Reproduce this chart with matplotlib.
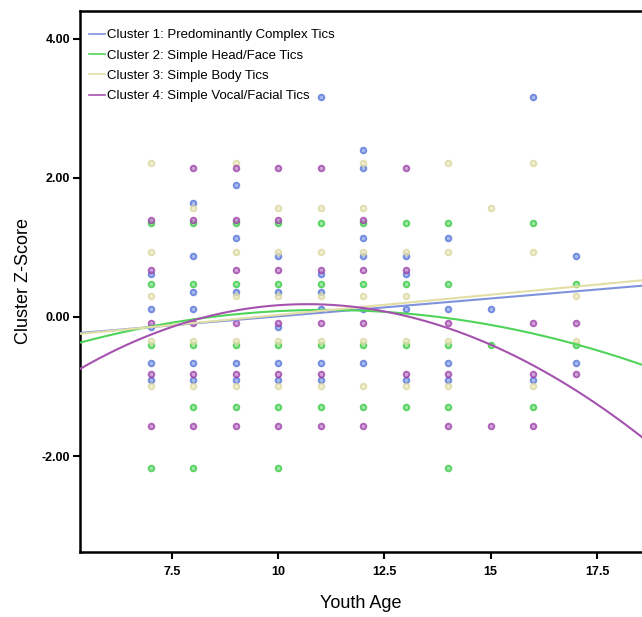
import numpy as np
import matplotlib
matplotlib.use("Agg")
import matplotlib.pyplot as plt

plt.rcParams['font.family'] = ['Liberation Sans', 'DejaVu Sans']

# ---------------- data ----------------
cluster_names = [
    "Cluster 1: Predominantly Complex Tics",
    "Cluster 2: Simple Head/Face Tics",
    "Cluster 3: Simple Body Tics",
    "Cluster 4: Simple Vocal/Facial Tics",
]

c1_points = {  # Cluster 1 (blue)
    7: [0.62, 0.12, -0.14, -0.66, -0.91],
    8: [1.64, 0.88, 0.36, 0.12, -0.66, -0.91],
    9: [1.90, 1.13, 0.36, -0.66, -0.91],
    10: [0.88, 0.36, -0.14, -0.66, -0.91],
    11: [3.17, 0.62, 0.36, 0.12, -0.66, -0.91],
    12: [2.40, 2.14, 1.13, 0.88, 0.12, -0.66],
    13: [0.88, 0.62, 0.12, -0.91],
    14: [1.13, 0.12, -0.66, -0.91],
    15: [0.12],
    16: [3.17, -0.91],
    17: [0.88, -0.66],
}
c2_points = {  # Cluster 2 (green)
    7: [1.35, 0.47, -0.40, -2.17],
    8: [1.35, 0.47, -0.40, -1.29, -2.17],
    9: [1.35, 0.47, -0.40, -1.29],
    10: [1.35, 0.47, -0.40, -1.29, -2.17],
    11: [1.35, 0.47, -0.40, -1.29],
    12: [1.35, 0.47, -0.40, -1.29],
    13: [1.35, 0.47, -0.40, -1.29],
    14: [1.35, 0.47, -0.40, -1.29, -2.17],
    15: [-0.40],
    16: [1.35, -1.29],
    17: [0.47, -0.40],
}
c3_points = {  # Cluster 3 (khaki)
    7: [2.21, 0.94, 0.30, -0.35, -0.99],
    8: [1.57, -0.35, -0.99],
    9: [2.21, 0.94, 0.30, -0.35, -0.99],
    10: [1.57, 0.94, 0.30, -0.35, -0.99],
    11: [1.57, 0.94, 0.30, -0.35, -0.99],
    12: [2.21, 1.57, 0.94, 0.30, -0.35, -0.99],
    13: [0.94, 0.30, -0.35, -0.99],
    14: [2.21, 0.94, -0.35, -0.99],
    15: [1.57],
    16: [2.21, 0.94, -0.99],
    17: [0.30, -0.35],
}
c4_points = {  # Cluster 4 (purple)
    7: [1.40, 0.68, -0.09, -0.82, -1.57],
    8: [2.14, 1.40, -0.09, -0.82, -1.57],
    9: [2.14, 1.40, 0.68, -0.09, -0.82, -1.57],
    10: [2.14, 1.40, 0.68, -0.09, -0.82, -1.57],
    11: [2.14, 0.68, -0.09, -0.82, -1.57],
    12: [1.40, 0.68, -0.09, -1.57],
    13: [2.14, 0.68, -0.82],
    14: [-0.09, -0.82, -1.57],
    15: [-1.57],
    16: [-0.09, -0.82, -1.57],
    17: [-0.09, -0.82],
}

# fitted curves, values, refitted with polynomials
c1_fit_x = [5.34, 12.0, 18.56]
c1_fit_y = [-0.23, 0.11, 0.45]
c2_fit_x = [5.34, 6.5, 9.0, 12.0, 13.8, 17.0, 18.56]
c2_fit_y = [-0.37, -0.20, 0.04, 0.10, -0.01, -0.40, -0.68]
c3_fit_x = [5.34, 12.0, 18.56]
c3_fit_y = [-0.24, 0.14, 0.53]
c4_fit_x = [5.34, 6.5, 8.0, 9.0, 10.6, 12.0, 13.8, 16.0, 18.56]
c4_fit_y = [-0.73, -0.39, -0.08, 0.08, 0.20, 0.16, -0.10, -0.75, -1.71]
fit_degrees = [1, 2, 1, 3]

x_ticks = [7.5, 10, 12.5, 15, 17.5]
x_tick_labels = ["7.5", "10", "12.5", "15", "17.5"]
y_ticks = [4, 2, 0, -2]
y_tick_labels = ["4.00", "2.00", "0.00", "-2.00"]

# ---------------- styling ----------------
point_edge = ["#4f6fd6", "#2fc83a", "#d9d59b", "#9a3aa6"]
point_face = ["#8da2ea", "#7fe08a", "#ebe8c4", "#c182c9"]
line_colors = ["#7f93dc", "#4fd45a", "#e2dea6", "#a552ae"]

fig = plt.figure(figsize=(6.42, 6.17), dpi=100)
ax = fig.add_axes([80 / 642, (617 - 552) / 617, 1 - 80 / 642, (552 - 11) / 617])

all_points = [c1_points, c2_points, c3_points, c4_points]
for pts, ec, fc in zip(all_points, point_edge, point_face):
    xs, ys = [], []
    for age, zs in pts.items():
        xs.extend([age] * len(zs))
        ys.extend(zs)
    ax.scatter(xs, ys, s=17, facecolors=fc, edgecolors=ec, linewidths=1.3,
               alpha=0.75, zorder=2)

xmin, xmax = 5.34, 18.56
xx = np.linspace(xmin, xmax, 300)
fits = [(c1_fit_x, c1_fit_y), (c2_fit_x, c2_fit_y), (c3_fit_x, c3_fit_y), (c4_fit_x, c4_fit_y)]
handles = []
for (fx, fy), deg, col, name in zip(fits, fit_degrees, line_colors, cluster_names):
    coef = np.polyfit(fx, fy, deg)
    h, = ax.plot(xx, np.polyval(coef, xx), color=col, lw=1.5, zorder=3, label=name)
    handles.append(h)

ax.set_xlim(xmin, xmax)
ax.set_ylim(-3.38, 4.40)
ax.set_xticks(x_ticks)
ax.set_xticklabels(x_tick_labels)
ax.set_yticks(y_ticks)
ax.set_yticklabels(y_tick_labels)
for lab in ax.get_xticklabels() + ax.get_yticklabels():
    lab.set_fontweight('bold')
    lab.set_fontsize(9)
ax.tick_params(axis='x', direction='out', length=5, width=1.5, color='black', pad=5)
ax.tick_params(axis='y', direction='out', length=5, width=1.5, color='black', pad=2)

for side in ['left', 'bottom', 'top']:
    ax.spines[side].set_linewidth(1.8)
ax.spines['right'].set_visible(False)

ax.set_xlabel("Youth Age", fontsize=13, labelpad=12)
ax.set_ylabel("Cluster Z-Score", fontsize=13, labelpad=7)

leg = ax.legend(handles=handles, loc='upper left', bbox_to_anchor=(0.0, 0.984),
                frameon=False, fontsize=9.5, handlelength=1.2, handletextpad=0.15,
                labelspacing=0.62, borderaxespad=0.3)
for lh in leg.get_lines():
    lh.set_linewidth(1.2)

fig.savefig("out.png", dpi=100)
